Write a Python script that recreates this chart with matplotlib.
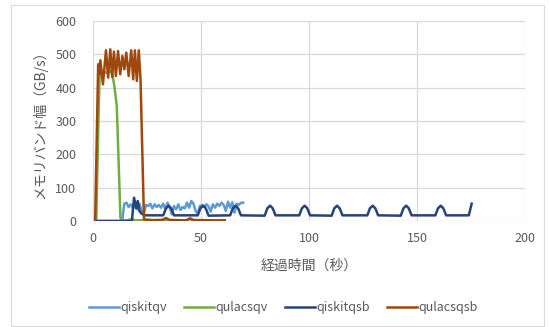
import matplotlib
matplotlib.use("Agg")
import matplotlib.pyplot as plt
import matplotlib.patches as patches

plt.rcParams['font.family'] = ['Noto Sans CJK JP', 'DejaVu Sans']

# qiskitqv (light blue)
qiskitqv_t = [1, 13.5, 14.5, 15.5, 16.5, 17.5, 18.5, 19.5, 20.5, 21.5, 22.5, 23.5,
              24.5, 25.5, 26.5, 27.5, 28.5, 29.5, 30.5, 31.5, 32.5, 33.5, 34.5,
              35.5, 36.5, 37.5, 38.5, 39.5, 40.5, 41.5, 42.5, 43.5, 44.5, 45.5,
              46.5, 47.5, 48.5, 49.5, 50.5, 51.5, 52.5, 53.5, 54.5, 55.5, 56.5,
              57.5, 58.5, 59.5, 60.5, 61.5, 62.5, 63.5, 64.5, 65.5, 66.5, 67.5,
              68.5, 69.5]
qiskitqv_v = [0, 0, 52, 55, 42, 50, 38, 58, 35, 52, 30, 20,
              48, 45, 52, 38, 50, 42, 48, 40, 52, 35, 55,
              40, 20, 45, 35, 50, 33, 42, 38, 55, 40, 60,
              52, 30, 22, 45, 48, 42, 50, 44, 28, 50, 40,
              52, 45, 55, 48, 30, 58, 40, 56, 25, 52, 48,
              55, 55]

# qulacsqv (green)
qulacsqv_t = [1.5, 2.5, 3.2, 4, 6, 8, 9, 10, 11, 12, 12.7, 13.2, 16, 18, 19.5,
              30, 44, 45, 45.8]
qulacsqv_v = [0, 300, 460, 450, 445, 450, 440, 400, 345, 150, 10, 2, 2, 6, 2,
              3, 2, 7, 2]

# qiskitqsb (dark blue)
qiskitqsb_t = [1, 18, 19, 20, 20.7, 21.5, 22.5, 24,
               32.5, 33.8, 35, 36.2, 37.5,
               48.5, 49.7, 51, 52.2, 53.5,
               63.5, 64.7, 66, 67.2, 68.5,
               79.5, 80.7, 82, 83.2, 84.5,
               95.5, 96.7, 98, 99.2, 100.5,
               110.5, 111.7, 113, 114.2, 115.5,
               127, 128.2, 129.5, 130.7, 132,
               142.5, 143.7, 145, 146.2, 147.5,
               158.5, 159.7, 161, 162.2, 163.5,
               174, 175.3]
qiskitqsb_v = [0, 0, 70, 38, 60, 30, 22, 17,
               17, 38, 46, 38, 17,
               17, 38, 46, 38, 16,
               17, 38, 46, 38, 17,
               16, 38, 46, 38, 17,
               17, 38, 46, 38, 17,
               16, 38, 46, 38, 17,
               17, 38, 46, 38, 17,
               16, 38, 46, 38, 17,
               17, 38, 46, 38, 17,
               17, 52]

# qulacsqsb (brown)
qulacsqsb_t = [1, 2.4, 2.9, 3.4, 4.6, 6.0, 7.0, 8.0, 8.9, 9.7, 10.6, 11.6, 12.6,
               13.6, 14.5, 15.4, 16.5, 17.7, 18.6, 19.4, 20.3, 21.2, 22.0, 23.6,
               28, 32, 33.8, 35.5, 43, 45, 46.5, 55, 61]
qulacsqsb_v = [0, 470, 440, 482, 410, 512, 430, 515, 432, 508, 435, 510, 440,
               495, 455, 505, 435, 512, 425, 512, 420, 512, 425, 5,
               2, 3, 9, 3, 2, 8, 3, 2, 2]

series = [
    ('qiskitqv', qiskitqv_t, qiskitqv_v, '#5B9BD5'),
    ('qulacsqv', qulacsqv_t, qulacsqv_v, '#70AD47'),
    ('qiskitqsb', qiskitqsb_t, qiskitqsb_v, '#264478'),
    ('qulacsqsb', qulacsqsb_t, qulacsqsb_v, '#9E480E'),
]

fig = plt.figure(figsize=(5.5, 3.27), dpi=100)
ax = fig.add_axes([93 / 550, 1 - 221 / 327, 432 / 550, 200 / 327])

for name, t, v, c in series:
    ax.plot(t, v, color=c, lw=1.8, label=name, solid_joinstyle='round')

ax.set_xlim(0, 200)
ax.set_ylim(0, 600)
ax.set_xticks(range(0, 201, 50))
ax.set_yticks(range(0, 601, 100))
ax.grid(True, color='#d9d9d9', lw=0.9)
ax.set_axisbelow(True)
for sp in ax.spines.values():
    sp.set_visible(False)
ax.tick_params(length=0, labelsize=9, labelcolor='#595959')
ax.tick_params(axis='y', pad=12)
ax.tick_params(axis='x', pad=8)

ax.set_xlabel('経過時間（秒）', fontsize=10, color='#595959', labelpad=10)
ax.set_ylabel('メモリバンド幅（GB/s）', fontsize=10, color='#595959', labelpad=6)

fig.legend(loc='center', bbox_to_anchor=(0.515, 1 - 308 / 327), ncol=4,
           frameon=False, fontsize=9, handlelength=2.4, handletextpad=0.1,
           columnspacing=1.4, labelcolor='#595959')

# outer chart frame
fig.patches.append(patches.Rectangle((11 / 550, 1 / 327), 533 / 550, 321 / 327,
                                     transform=fig.transFigure, fill=False,
                                     edgecolor='#d9d9d9', lw=0.8))

fig.savefig('out.png', dpi=100)
